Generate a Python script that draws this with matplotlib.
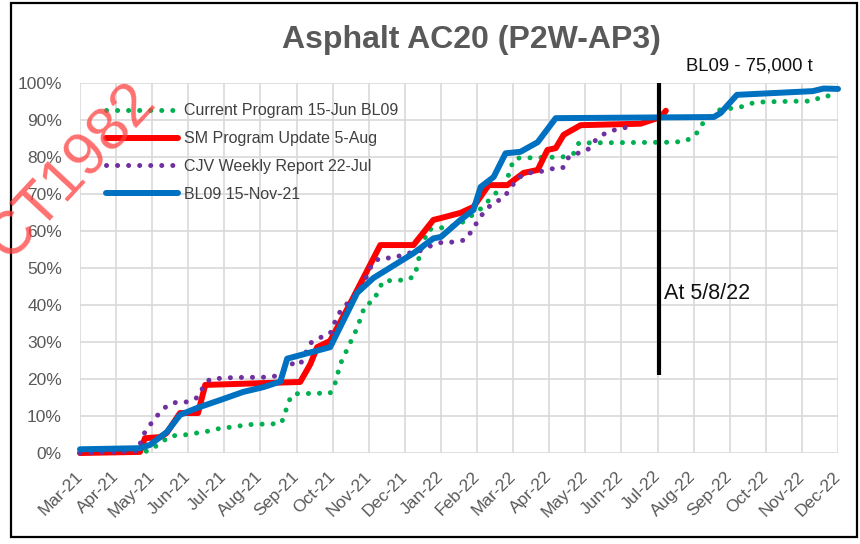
import matplotlib.pyplot as plt
from matplotlib.patches import Rectangle
from matplotlib.ticker import PercentFormatter

plt.rcParams['font.family'] = ['Liberation Sans', 'DejaVu Sans']

# x values are months since Mar-21 (0 = Mar-21, 21 = Dec-22), y values in %
months = ['Mar-21', 'Apr-21', 'May-21', 'Jun-21', 'Jul-21', 'Aug-21', 'Sep-21',
          'Oct-21', 'Nov-21', 'Dec-21', 'Jan-22', 'Feb-22', 'Mar-22', 'Apr-22',
          'May-22', 'Jun-22', 'Jul-22', 'Aug-22', 'Sep-22', 'Oct-22', 'Nov-22',
          'Dec-22']

current_x = [0, 1.9, 2.2, 2.5, 2.91, 3.55, 3.94, 4.24, 4.58, 4.91, 5.27, 5.58,
             5.69, 5.77, 5.91, 6.93, 7.07, 7.21, 7.4, 7.68, 7.9, 8.13, 8.27,
             8.4, 9.07, 9.29, 9.35, 9.63, 9.9, 10.2, 10.54, 10.76, 11.1, 11.5,
             11.84, 11.93, 12.07, 13.37, 13.68, 13.82, 16.45, 16.78, 17.06,
             17.2, 17.7, 18.3, 18.64, 18.95, 19.97, 20.3, 20.58, 21.0]
current_y = [0, 0.5, 2.5, 4.6, 4.9, 5.9, 6.8, 7.0, 7.6, 7.8, 7.8, 8.1,
             11, 13.8, 16, 16.2, 18.9, 24, 28, 33.8, 40, 41, 44,
             46.5, 46.8, 48, 51.4, 60.3, 60.8, 61, 62, 63.5, 66, 70,
             74, 77.3, 79.7, 80, 81, 83.8, 84, 84.3, 86,
             88.6, 92.7, 93.5, 94.6, 94.9, 95.1, 95.1, 96.5, 96.5]

sm_x = [0, 1.66, 1.8, 2.22, 2.4, 2.77, 3.27, 3.47, 6.1, 6.38, 6.57, 6.93,
        7.49, 8.32, 9.24, 9.79, 10.0, 10.54, 10.9, 11.32, 11.84, 12.29, 12.68,
        12.95, 13.18, 13.4, 13.87, 15.53, 16.09, 16.23]
sm_y = [0, 0.3, 4, 4.3, 5.4, 10.8, 10.8, 18.4, 19.2, 24, 28.6, 30.3,
        40.5, 56.2, 56.2, 63, 63.5, 64.9, 66.5, 72.4, 72.4, 75.7, 76.5,
        81.9, 82.4, 86, 88.6, 89, 90.8, 92.5]

cjv_x = [0, 1.6, 1.75, 1.94, 2.14, 2.41, 2.69, 3.0, 3.27, 3.41, 3.6, 4.24,
         5.27, 5.5, 5.69, 5.91, 6.1, 6.38, 6.66, 6.93, 7.07, 7.21, 7.43, 7.71,
         7.99, 8.1, 8.32, 8.68, 9.07, 9.35, 9.63, 10.04, 10.35, 10.68, 10.87,
         11.04, 11.23, 11.46, 11.73, 11.93, 12.12, 12.4, 12.7, 13.04, 13.37,
         13.54, 13.79, 14.06, 14.29, 14.56, 14.9, 15.26]
cjv_y = [0, 0.5, 4.9, 7.6, 10.1, 12.8, 13.8, 13.8, 15.1, 17.8, 20, 20.4,
         20.5, 21, 22.7, 24.3, 23.9, 29.7, 31.2, 32.3, 35.6, 38.3, 40.7, 43.5,
         48.6, 51.4, 52.7, 52.7, 54, 54.3, 55.7, 57, 57, 57.6, 60.3,
         63, 65.7, 67.6, 68.9, 71.6, 74.3, 75.7, 75.9, 76.8, 77,
         80, 81, 81.9, 84.6, 86.5, 87.6, 88.2]

bl09_x = [0, 1.66, 1.94, 2.41, 2.77, 3.25, 3.88, 4.52, 5.08, 5.55, 5.74, 6.93,
          7.4, 7.68, 8.13, 9.24, 9.79, 10.0, 10.54, 10.9, 11.1, 11.46, 11.79,
          12.2, 12.68, 13.18, 17.56, 17.75, 18.2, 20.3, 20.6, 21.0]
bl09_y = [1, 1.3, 2.2, 5.7, 10.3, 12.2, 14.3, 16.5, 17.8, 19.3, 25.5, 28.6,
          37.8, 43.3, 47.3, 54, 58, 58.4, 63, 65.7, 71.9, 74.6, 81,
          81.4, 84, 90.5, 90.8, 91.9, 96.8, 97.8, 98.5, 98.4]

status_x = 16.05          # "At 5/8/22" marker
status_span = (21, 100)


def main():
    fig = plt.figure(figsize=(8.6, 5.44), dpi=100)
    ax = fig.add_axes([80 / 860, 1 - 453 / 544, 758 / 860, 370 / 544])

    dots = dict(lw=3.6, linestyle=(0, (0.01, 2.2)), dash_capstyle='round',
                clip_on=False)
    ax.plot(current_x, current_y, color='#00B050',
            label='Current Program 15-Jun BL09', **dots)
    ax.plot(sm_x, sm_y, color='#FF0000', lw=4.3, solid_capstyle='round',
            label='SM Program Update 5-Aug', clip_on=False)
    ax.plot(cjv_x, cjv_y, color='#7030A0',
            label='CJV Weekly Report 22-Jul', **dots)
    ax.plot(bl09_x, bl09_y, color='#0070C0', lw=4.3, solid_capstyle='round',
            label='BL09 15-Nov-21', clip_on=False)

    ax.vlines(status_x, *status_span, colors='black', lw=3, clip_on=False)
    ax.text(status_x + 0.12, 43.2, 'At 5/8/22', fontsize=15.5, va='center',
            color='#111111')
    ax.text(16.78, 104.6, 'BL09 - 75,000 t', fontsize=13.3, va='center',
            color='#111111', clip_on=False)

    ax.set_xlim(0, 21)
    ax.set_ylim(0, 100)
    ax.set_xticks(range(len(months)))
    ax.set_xticklabels(months, rotation=45, ha='right', va='center',
                       rotation_mode='anchor')
    ax.set_yticks(range(0, 101, 10))
    ax.yaxis.set_major_formatter(PercentFormatter(decimals=0))
    ax.tick_params(axis='y', length=0, pad=13, labelsize=12.5,
                   labelcolor='#595959')
    ax.tick_params(axis='x', length=0, pad=15, labelsize=12.5,
                   labelcolor='#595959')
    ax.grid(True, color='#D9D9D9', lw=1.2)
    ax.set_axisbelow(True)
    for s in ax.spines.values():
        s.set_visible(False)

    leg = ax.legend(loc='upper left', bbox_to_anchor=(0.026, 0.962),
                    frameon=False, fontsize=11.5, handlelength=4.5,
                    handletextpad=0.35, labelspacing=0.8, borderaxespad=0)
    for t in leg.get_texts():
        t.set_color('#404040')

    fig.text(471 / 860, 1 - 40 / 544, 'Asphalt AC20 (P2W-AP3)', ha='center',
             va='center', fontsize=23, fontweight='bold', color='#595959')

    # watermark
    fig.text(72 / 860, 1 - 172 / 544, 'CT1982', ha='center', va='center',
             rotation=47, fontsize=44, color='#FF4040', alpha=0.75)

    fig.patches.append(Rectangle((11 / 860, 1 - 537 / 544), 846 / 860,
                                 534 / 544, transform=fig.transFigure,
                                 fill=False, edgecolor='black', lw=1.6))

    fig.savefig('out.png', dpi=100)


if __name__ == "__main__":
    main()
